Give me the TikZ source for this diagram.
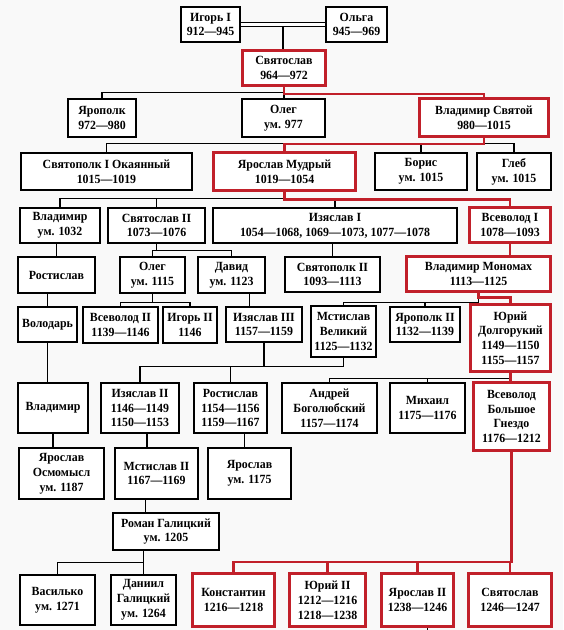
\documentclass[tikz,border=0pt]{standalone}
\usepackage{fontspec}
\setmainfont{Liberation Serif}[FakeStretch=0.95]
\usetikzlibrary{calc}
\definecolor{kinred}{RGB}{193,32,42}
\tikzset{
	person/.style={draw=black, line width=1.1pt, fill=white, align=center, inner sep=0pt, font=\bfseries\fontsize{12.5}{14.8}\selectfont},
	ruler/.style={person, draw=kinred, line width=3.2pt},
	bond/.style={black, line width=1.1pt},
	heir/.style={kinred, line width=2.6pt}
}
\def\link[#1](#2)(#3:#4){\draw[#1] (#2.south) -- ++(0,#4) -| (#3.north);}

\begin{document}
\begin{tikzpicture}[x=1pt, y=-1pt]
			%%%%% START %%%%%
			
			\fill[gray!5] (0,0) rectangle (563,630);
			\useasboundingbox (0,0) rectangle (563,630);
			
			\node[person, minimum width=59, minimum height=35] (igor) at (210.5,24.5) {Игорь I\\912—945};
			\node[person, minimum width=61, minimum height=35] (olga) at (356.5,24.5) {Ольга\\945—969};
			\node[ruler, minimum width=83, minimum height=35] (svyatoslav) at (284,68) {Святослав\\964—972};
			
			\node[person, minimum width=68, minimum height=38] (yaropolk) at (102,118) {Ярополк\\972—980};
			\node[person, minimum width=83, minimum height=38] (oleg) at (283.5,118) {Олег\\ум. 977};
			\node[ruler, minimum width=129, minimum height=38] (vladimir) at (484,117.5) {Владимир Святой\\980—1015};
			
			\node[person, minimum width=171, minimum height=37] (svyatopolk) at (106.5,171.5) {Святополк I Окаянный\\1015—1019};
			\node[ruler, minimum width=142, minimum height=38] (yaroslav) at (284.5,171.5) {Ярослав Мудрый\\1019—1054};
			\node[person, minimum width=92, minimum height=37] (boris) at (421,171.5) {Борис\\ум. 1015};
			\node[person, minimum width=74, minimum height=37] (gleb) at (514,171.5) {Глеб\\ум. 1015};
			
			\node[person, minimum width=80, minimum height=35] (vladimirA) at (60,225.5) {Владимир\\ум. 1032};
			\node[person, minimum width=97, minimum height=35] (svyatoslavB) at (156.5,225.5) {Святослав II\\1073—1076};
			\node[person, minimum width=244, minimum height=35] (izyaslav) at (335,225.5) {Изяслав I\\1054—1068, 1069—1073, 1077—1078};
			\node[ruler, minimum width=81, minimum height=35] (vsevolod) at (510,225) {Всеволод I\\1078—1093};
			
			\node[person, minimum width=77, minimum height=36] (rostislavA) at (56.5,275) {Ростислав};
			\node[person, minimum width=65, minimum height=36] (olegB) at (152.5,275) {Олег\\ум. 1115};
			\node[person, minimum width=67, minimum height=36] (davyd) at (231.5,275) {Давид\\ум. 1123};
			\node[person, minimum width=95, minimum height=35] (svyatopolkB) at (332.5,274.5) {Святополк II\\1093—1113};
			\node[ruler, minimum width=144, minimum height=35] (monomakh) at (478.5,274) {Владимир Мономах\\1113—1125};
			
			\node[person, minimum width=59, minimum height=35] (volodar) at (47.5,324.5) {Володарь};
			\node[person, minimum width=75, minimum height=36] (vsevolodB) at (120.5,325) {Всеволод II\\1139—1146};
			\node[person, minimum width=54, minimum height=36] (igorB) at (190,325) {Игорь II\\1146};
			\node[person, minimum width=76, minimum height=35] (izyaslavC) at (264,324.5) {Изяслав III\\1157—1159};
			\node[person, minimum width=65, minimum height=51] (mstislav) at (343.5,331.5) {Мстислав\\Великий\\1125—1132};
			\node[person, minimum width=70, minimum height=35] (yaropolkB) at (425,324.5) {Ярополк II\\1132—1139};
			\node[ruler, minimum width=80, minimum height=67] (yuri) at (510.5,338) {Юрий\\Долгорукий\\1149—1150\\1155—1157};
			
			\node[person, minimum width=70, minimum height=50] (vladimirC) at (53,408) {Владимир};
			\node[person, minimum width=78, minimum height=50] (izyaslavB) at (140,408) {Изяслав II\\1146—1149\\1150—1153};
			\node[person, minimum width=73, minimum height=50] (rostislavB) at (230.5,408) {Ростислав\\1154—1156\\1159—1167};
			\node[person, minimum width=95, minimum height=50] (andrey) at (329.5,408) {Андрей\\Боголюбский\\1157—1174};
			\node[person, minimum width=75, minimum height=50] (mikhail) at (427.5,408) {Михаил\\1175—1176};
			\node[ruler, minimum width=76, minimum height=68] (vsevolodC) at (511.5,416.5) {Всеволод\\Большое\\Гнездо\\1176—1212};
			
			\node[person, minimum width=85, minimum height=51] (osmomysl) at (61.5,473.5) {Ярослав\\Осмомысл\\ум. 1187};
			\node[person, minimum width=83, minimum height=51] (mstislavB) at (156.5,473.5) {Мстислав II\\1167—1169};
			\node[person, minimum width=83, minimum height=51] (yaroslavB) at (249.5,473.5) {Ярослав\\ум. 1175};
			
			\node[person, minimum width=106, minimum height=37] (roman) at (166,531.5) {Роман Галицкий\\ум. 1205};
			
			\node[person, minimum width=75, minimum height=50] (vasilko) at (57.5,600) {Василько\\ум. 1271};
			\node[person, minimum width=65, minimum height=50] (daniil) at (143.5,600) {Даниил\\Галицкий\\ум. 1264};
			\node[ruler, minimum width=82, minimum height=53] (konstantin) at (233.5,600) {Константин\\1216—1218};
			\node[ruler, minimum width=76, minimum height=53] (yuriB) at (327.5,600) {Юрий II\\1212—1216\\1218—1238};
			\node[ruler, minimum width=72, minimum height=53] (yaroslavC) at (417.5,600) {Ярослав II\\1238—1246};
			\node[ruler, minimum width=83, minimum height=53] (svyatoslavC) at (510,600) {Святослав\\1246—1247};
			
			% Igor and Olga
			\draw[black, line width=0.9pt, double, double distance=2.6pt] (igor.east) -- (olga.west);
			\coordinate (wed) at ($(igor.east)!0.5!(olga.west)$);
			\draw[bond] ([yshift=-2.2pt]wed) -- (wed |- svyatoslav.north);
			
			\link[bond](svyatoslav)(yaropolk:5)
			\draw[bond] (svyatoslav.south) -- (svyatoslav.south |- oleg.north);
			\link[heir](svyatoslav)(vladimir:7)
			
			\link[bond](vladimir)(svyatopolk:5.5)
			\link[bond](vladimir)(boris:5.5)
			\link[bond](vladimir)(gleb:5.5)
			\link[heir](vladimir)(yaroslav:6)
			
			\link[bond](yaroslav)(vladimirA:6)
			\link[bond](yaroslav)(svyatoslavB:6)
			\link[bond](yaroslav)(izyaslav:6)
			\link[heir](yaroslav)(vsevolod:7.5)
			
			\draw[bond] (rostislavA.north) -- (rostislavA.north |- vladimirA.south);
			\link[bond](svyatoslavB)(olegB:7)
			\link[bond](svyatoslavB)(davyd:7)
			\draw[bond] (svyatopolkB.north) -- (svyatopolkB.north |- izyaslav.south);
			\draw[heir] (vsevolod.south) -- (vsevolod.south |- monomakh.north);
			
			\draw[bond] (volodar.north) -- (volodar.north |- rostislavA.south);
			\link[bond](olegB)(vsevolodB:8.5)
			\link[bond](olegB)(igorB:8.5)
			\draw[bond] ([xshift=18pt]davyd.south) -- ([xshift=18pt]davyd.south |- izyaslavC.north);
			\link[bond](monomakh)(mstislav:9)
			\link[bond](monomakh)(yaropolkB:9)
			\link[heir](monomakh)(yuri:4.5)
			
			\draw[bond] (volodar.south) -- (volodar.south |- vladimirC.north);
			\link[bond](izyaslavC)(izyaslavB:24)
			\link[bond](izyaslavC)(rostislavB:24)
			\link[bond](mstislav)(izyaslavB:9)
			\link[bond](yuri)(andrey:5.5)
			\link[bond](yuri)(mikhail:5.5)
			\draw[heir] (yuri.south) -- (yuri.south |- vsevolodC.north);
			
			\draw[bond] (vladimirC.south) -- (vladimirC.south |- osmomysl.north);
			\draw[bond] ([xshift=7pt]izyaslavB.south) -- ([xshift=7pt]izyaslavB.south |- mstislavB.north);
			\draw[bond] ([xshift=14pt]rostislavB.south) -- ([xshift=14pt]rostislavB.south |- yaroslavB.north);
			\draw[bond] ([xshift=-11pt]mstislavB.south) -- ([xshift=-11pt]mstislavB.south |- roman.north);
			
			\draw[bond] (daniil.north) -- (daniil.north |- roman.south);
			\draw[bond] (vasilko.north) |- ($(daniil.north)!0.5!(daniil.north |- roman.south)$);
			
			\link[heir](vsevolodC)(konstantin:110)
			\link[heir](vsevolodC)(yuriB:110)
			\link[heir](vsevolodC)(yaroslavC:110)
			\link[heir](vsevolodC)(svyatoslavC:110)
			\draw[bond] ([xshift=10pt]yaroslavC.south) -- ++(0,6);
			
			%%%%% END %%%%%
\end{tikzpicture}
\end{document}
